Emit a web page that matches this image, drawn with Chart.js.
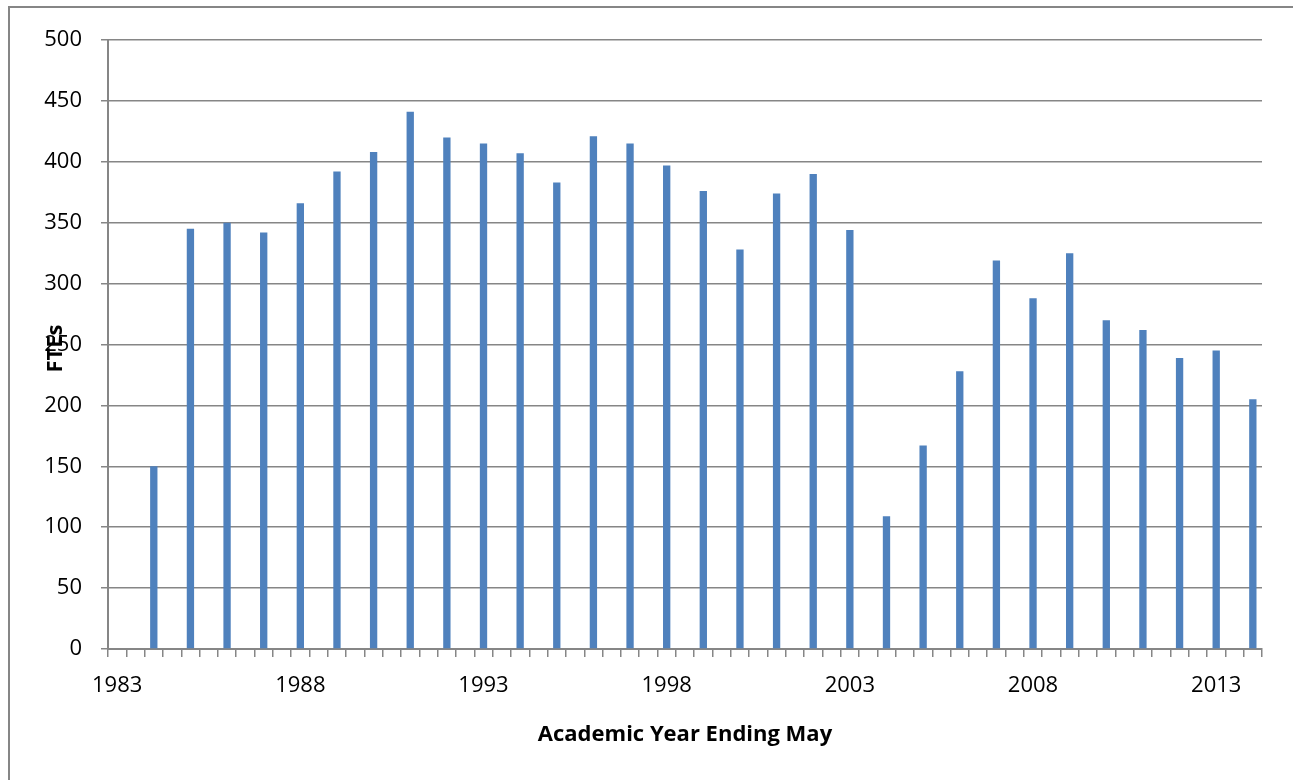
<!DOCTYPE html>
<html>
<head>
<meta charset="utf-8">
<script src="https://cdn.jsdelivr.net/npm/chart.js@4/dist/chart.umd.min.js"></script>
<style>
  html, body { margin: 0; padding: 0; background: #fff; }
  #wrap { width: 1293px; height: 780px; }
</style>
</head>
<body>
<div id="wrap"><canvas id="fteChart"></canvas></div>
<script>
const firstYear = 1983;
const lastYear = 2014;
const years = [1984, 1985, 1986, 1987, 1988, 1989, 1990, 1991, 1992, 1993,
  1994, 1995, 1996, 1997, 1998, 1999, 2000, 2001, 2002, 2003,
  2004, 2005, 2006, 2007, 2008, 2009, 2010, 2011, 2012, 2013, 2014];
const ftes = [150, 345, 350, 342, 366, 392, 408, 441, 420, 415,
  407, 383, 421, 415, 397, 376, 328, 374, 390, 344,
  109, 167, 228, 319, 288, 325, 270, 262, 239, 245, 205];
const yTicks = [0, 50, 100, 150, 200, 250, 300, 350, 400, 450, 500];

// half-year category slots, bars only on whole years
const slots = [];
const slotValues = [];
for (let y = firstYear; y <= lastYear; y += 0.5) {
  slots.push(String(y));
  const i = years.indexOf(y);
  slotValues.push(i >= 0 ? ftes[i] : null);
}

const gray = "#868686";
const font = "'Open Sans', sans-serif";

const frame = {
  id: "frame",
  afterDraw(chart) {
    const ctx = chart.ctx;
    const area = chart.chartArea;
    ctx.save();
    ctx.strokeStyle = gray;
    ctx.lineWidth = 2;
    ctx.strokeRect(9, 7, 1300, 800);
    // y title sits over the tick labels like in the source
    ctx.translate(62, (area.top + area.bottom) / 2 + 4);
    ctx.rotate(-Math.PI / 2);
    ctx.fillStyle = "#000";
    ctx.font = "bold 22px " + font;
    ctx.textAlign = "center";
    ctx.textBaseline = "alphabetic";
    ctx.fillText("FTEs", 0, 0);
    ctx.restore();
  },
};

new Chart(document.getElementById("fteChart"), {
  type: "bar",
  data: {
    labels: slots,
    datasets: [
      {
        label: "FTEs",
        data: slotValues,
        backgroundColor: "#4F81BD",
        barPercentage: 0.4,
        categoryPercentage: 1,
      },
    ],
  },
  options: {
    responsive: true,
    maintainAspectRatio: false,
    animation: false,
    layout: { padding: { top: 40, right: 31, bottom: 0, left: 0 } },
    plugins: {
      legend: { display: false },
      tooltip: { enabled: false },
    },
    scales: {
      x: {
        afterFit: (scale) => { scale.height = 131; },
        grid: {
          drawOnChartArea: false,
          drawTicks: true,
          tickLength: 8,
          color: gray,
          lineWidth: 1.5,
          offset: true,
        },
        border: { color: gray, width: 2 },
        ticks: {
          autoSkip: false,
          maxRotation: 0,
          padding: 16,
          color: "#000",
          font: { family: font, size: 22 },
          callback: function (value, index) {
            return index % 10 === 0 ? this.getLabelForValue(value) : "";
          },
        },
        title: {
          display: true,
          text: "Academic Year Ending May",
          color: "#000",
          font: { family: font, size: 22, weight: "bold" },
          padding: { top: 0, bottom: 32 },
        },
      },
      y: {
        min: 0,
        max: 500,
        afterFit: (scale) => { scale.width = 108; },
        afterBuildTicks: (scale) => { scale.ticks = yTicks.map((v) => ({ value: v })); },
        grid: { color: gray, lineWidth: 1.5, tickLength: 7 },
        border: { color: gray, width: 2 },
        ticks: {
          padding: 19,
          color: "#000",
          font: { family: font, size: 22 },
        },
      },
    },
  },
  plugins: [frame],
});
</script>
</body>
</html>
